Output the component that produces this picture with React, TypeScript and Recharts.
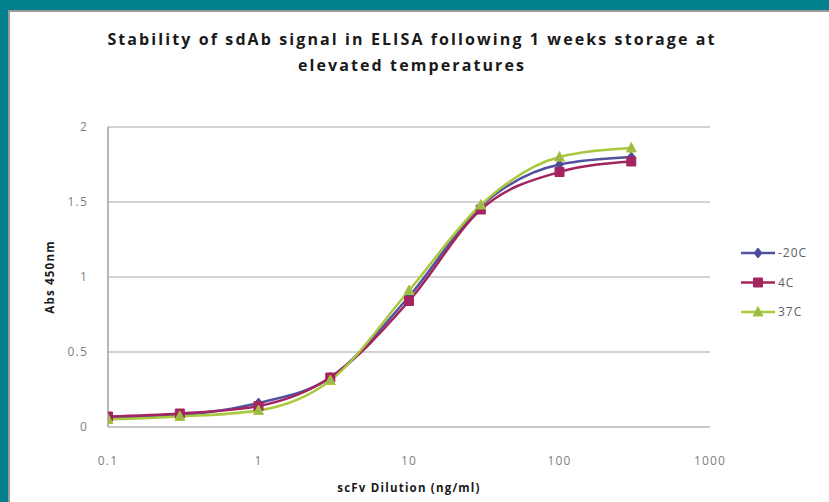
import React from 'react';
import { LineChart, Line, XAxis, YAxis, CartesianGrid, Label } from 'recharts';

const concentrations = [0.1, 0.3, 1, 3, 10, 30, 100, 300];
const minus20C = [0.06, 0.08, 0.16, 0.33, 0.87, 1.47, 1.75, 1.8];
const plus4C = [0.07, 0.09, 0.14, 0.33, 0.84, 1.45, 1.7, 1.77];
const plus37C = [0.05, 0.07, 0.11, 0.31, 0.91, 1.48, 1.8, 1.86];
const xTicks = [0.1, 1, 10, 100, 1000];
const yTicks = [0, 0.5, 1, 1.5, 2];

const series = [
  { key: 'm20', name: '-20C', color: '#5052a0', fill: '#4a4c96', shape: 'diamond' },
  { key: 'p4', name: '4C', color: '#a3245e', fill: '#a3245e', shape: 'square' },
  { key: 'p37', name: '37C', color: '#a8c83e', fill: '#9fb84a', shape: 'triangle' },
];

const data = concentrations.map((c, i) => ({
  conc: c,
  m20: minus20C[i],
  p4: plus4C[i],
  p37: plus37C[i],
}));

const markerPath = (shape: string, x: number, y: number) => {
  if (shape === 'diamond') return `M${x},${y - 5}L${x + 4},${y}L${x},${y + 5}L${x - 4},${y}Z`;
  if (shape === 'square') return `M${x - 4.5},${y - 4.5}h9v9h-9Z`;
  return `M${x},${y - 5.5}L${x + 5},${y + 4}L${x - 5},${y + 4}Z`;
};

const makeDot = (s: typeof series[number]) => (props: any) => {
  const { cx, cy, index } = props;
  if (cx == null || cy == null) return <g key={`${s.key}-${index}`} />;
  return (
    <path
      key={`${s.key}-${index}`}
      d={markerPath(s.shape, cx, cy)}
      fill={s.fill}
      stroke={s.color}
      strokeWidth={1}
    />
  );
};

const tickStyle = { fontSize: 12, fill: '#808080', fontFamily: 'Open Sans', letterSpacing: 1.2 };
const titleStyle = { fontFamily: 'Open Sans', fontWeight: 700, fontSize: 11.5, letterSpacing: 1.2, fill: '#1a1a1a' };

export default function App() {
  return (
    <div
      style={{
        position: 'absolute',
        left: 0,
        top: 0,
        width: 829,
        height: 502,
        background: '#00808c',
        overflow: 'hidden',
      }}
    >
      <div
        style={{
          position: 'absolute',
          left: 8,
          top: 10,
          width: 821,
          height: 492,
          background: '#ffffff',
          borderLeft: '2px solid #9a9a9a',
          borderTop: '2px solid #9a9a9a',
          boxSizing: 'border-box',
        }}
      />
      <div
        style={{
          position: 'absolute',
          left: 0,
          top: 26,
          width: 824,
          textAlign: 'center',
          fontFamily: 'Open Sans',
          fontWeight: 700,
          fontSize: 16,
          letterSpacing: 2.1,
          lineHeight: '26px',
          color: '#1a1a1a',
        }}
      >
        Stability of sdAb signal in ELISA following 1 weeks storage at
        <br />
        elevated temperatures
      </div>
      <div style={{ position: 'absolute', left: 0, top: 0 }}>
        <LineChart width={829} height={502} data={data} margin={{ top: 127, right: 119, bottom: 15, left: 48 }}>
          <CartesianGrid horizontal vertical={false} stroke="#c4c4c4" strokeWidth={1.5} />
          <XAxis
            dataKey="conc"
            type="number"
            scale="log"
            domain={[0.1, 1000]}
            ticks={xTicks}
            allowDataOverflow
            tickFormatter={(v: number) => String(v)}
            tick={tickStyle}
            tickLine={false}
            axisLine={{ stroke: '#c4c4c4', strokeWidth: 1.5 }}
            height={60}
            tickMargin={23}
          >
            <Label value="scFv Dilution (ng/ml)" position="bottom" offset={-3} style={titleStyle} />
          </XAxis>
          <YAxis
            type="number"
            domain={[0, 2]}
            ticks={yTicks}
            tick={tickStyle}
            tickLine={false}
            axisLine={{ stroke: '#a0a0a0', strokeWidth: 1.5 }}
            width={60}
            tickMargin={14}
          >
            <Label
              value="Abs 450nm"
              angle={-90}
              position="insideLeft"
              offset={2}
              style={{ ...titleStyle, textAnchor: 'middle' }}
            />
          </YAxis>
          {series.map((s) => (
            <Line
              key={s.key}
              dataKey={s.key}
              name={s.name}
              type="monotone"
              stroke={s.color}
              strokeWidth={2.5}
              dot={makeDot(s)}
              activeDot={false}
              isAnimationActive={false}
            />
          ))}
        </LineChart>
      </div>
      <svg style={{ position: 'absolute', left: 730, top: 235 }} width={95} height={95}>
        {series.map((s, i) => {
          const y = 18 + i * 29.5;
          return (
            <g key={s.key}>
              <line x1={11} y1={y} x2={45} y2={y} stroke={s.color} strokeWidth={2.5} />
              <path d={markerPath(s.shape, 28, y)} fill={s.fill} stroke={s.color} strokeWidth={1} />
              <text x={48} y={y + 4} fontFamily="Open Sans" fontSize={12} fill="#606060" letterSpacing={1}>
                {s.name}
              </text>
            </g>
          );
        })}
      </svg>
    </div>
  );
}
